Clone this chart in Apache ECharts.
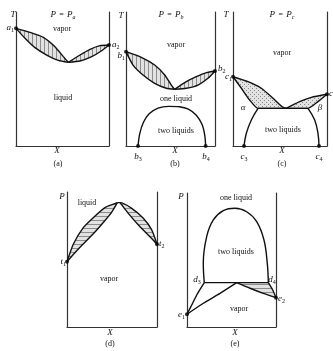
<!DOCTYPE html>
<html>
<head>
<meta charset="utf-8">
<script src="https://cdn.jsdelivr.net/npm/echarts@6/dist/echarts.min.js"></script>
<style>
html,body{margin:0;padding:0;background:#fff;}
#chart{width:333px;height:351px;}
</style>
</head>
<body>
<div id="chart"></div>
<script>
// all curves in panel units: x 0..100 (composition), y 0..100 (T or P)

// (a) P = Pa
var aLeftUpper = [[0,87.8],[15.1,84.8],[29.4,81.1],[41.9,74.1],[50.9,66.7],[56.3,62.4]];
var aLeftLower = [[0,87.8],[9.7,80.4],[20.4,73.4],[33.0,67.9],[45.5,63.9],[56.3,62.4]];
var aRightUpper = [[56.3,62.4],[68.8,67.9],[79.6,72.1],[90.3,74.9],[100,75.4]];
var aRightLower = [[56.3,62.4],[68.8,63.4],[81.4,66.7],[92.1,71.1],[100,75.4]];
var aDots = [[0,87.8],[100,75.4]];

// (b) P = Pb
var bLeftUpper = [[0,70.4],[17.2,66.2],[32.2,60.4],[43.5,53.0],[50.9,45.5],[54.7,42.3]];
var bLeftLower = [[0,70.4],[7.9,60.4],[19.1,53.0],[32.2,46.8],[45.3,43.1],[54.7,42.3]];
var bRightUpper = [[54.7,42.3],[67.8,48.0],[79.0,51.7],[90.3,54.7],[100,56.0]];
var bRightLower = [[54.7,42.3],[67.8,43.1],[80.9,45.5],[92.1,50.5],[100,56.0]];
var bDome = [[13.5,0],[15.4,9],[19.5,17.5],[26,24],[36,28.3],[48,29.6],[60,29.3],[70,27.5],[79,23],[85.5,16],[88.5,8],[89.5,0]];
var bDots = [[0,70.4],[100,56.0],[13.5,0],[89.5,0]];

// (c) P = Pc
var cLeftUpper = [[0,51.7],[16.0,48.0],[30.1,43.1],[42.6,35.6],[52.0,29.5],[56.5,28.1]];
var cLeftLower = [[0,51.7],[8.9,43.1],[17.7,34.3],[26.6,28.1],[56.5,28.1]];
var cRightUpper = [[56.5,28.1],[70.9,33.1],[83.3,36.3],[100,38.6]];
var cRightLower = [[56.5,28.1],[79.8,28.1],[90.4,33.1],[100,38.6]];
var cTie = [[26.6,28.1],[79.8,28.1]];
var cAlpha = [[26.6,28.1],[19.5,19.4],[14.2,9.5],[11.7,0]];
var cBeta = [[79.8,28.1],[86.9,19.4],[90.4,9.5],[91.5,0]];
var cDots = [[0,51.7],[100,38.6],[11.7,0],[91.5,0]];

// (d) T fixed, P vs X
var dLeftOuter = [[0,48.4],[7.0,61.3],[18.1,73.6],[29.2,81.0],[42.2,88.4],[55.9,92.1]];
var dLeftInner = [[0,48.4],[14.4,59.0],[29.2,69.0],[42.2,78.9],[49.7,85.1],[55.9,92.1]];
var dRightOuter = [[55.9,92.1],[58.9,92.1],[71.9,87.9],[84.8,80.5],[94.1,71.9],[100,61.3]];
var dRightInner = [[58.9,92.1],[68.1,84.2],[81.1,74.3],[92.2,66.9],[100,61.3]];
var dDots = [[0,48.4],[100,61.3]];

// (e) T fixed, P vs X with two liquids
var eLeftSide = [[19.4,33.1],[10.9,23.9],[5.3,16.4],[0,9.5]];
var eLeftLower = [[0,9.5],[18.3,17.7],[37.1,25.1],[55.8,33.1]];
var eRightLower = [[55.8,33.1],[70.8,28.9],[85.7,25.1],[100,21.9]];
var eRightUpper = [[91.4,33.1],[96.3,27.6],[100,21.9]];
var eTie = [[19.4,33.1],[91.4,33.1]];
var eDome = [[19.4,33.1],[18.3,47.5],[22.1,67.4],[29.6,79.9],[40.8,86.8],[53.9,88.6],[67.0,86.0],[78.3,78.6],[86.5,64.9],[90.2,47.5],[91.4,33.1]];
var eDots = [[0,9.5],[100,21.9]];

var serif = '"Liberation Serif","DejaVu Serif",serif';

var chart = echarts.init(document.getElementById('chart'));

function hatch(kind) {
	var c = document.createElement('canvas');
	c.width = 4; c.height = 4;
	var g = c.getContext('2d');
	g.fillStyle = '#e2e2e2';
	g.fillRect(0, 0, 4, 4);
	g.fillStyle = '#8c8c8c';
	if (kind == 'v') {
		g.fillRect(0, 0, 1, 4);
	} else if (kind == 'h') {
		g.fillRect(0, 0, 4, 1);
	} else {
		g.fillRect(0, 0, 1, 1);
		g.fillRect(2, 2, 1, 1);
	}
	return { image: c, repeat: 'repeat' };
}

var grids = [
	{ left: 16, top: 12, width: 93, height: 134 },
	{ left: 126, top: 12, width: 89, height: 134 },
	{ left: 233, top: 12, width: 94, height: 134 },
	{ left: 67, top: 192, width: 90, height: 135 },
	{ left: 187, top: 193, width: 89, height: 134 }
];

var xAxes = [], yAxes = [];
for (var i = 0; i < grids.length; i++) {
	xAxes.push({
		type: 'value', gridIndex: i, min: 0, max: 100,
		axisLine: { show: true, onZero: false, lineStyle: { color: '#333', width: 1.2 } },
		axisTick: { show: false }, axisLabel: { show: false }, splitLine: { show: false }
	});
	['left', 'right'].forEach(function (pos) {
		yAxes.push({
			type: 'value', gridIndex: i, min: 0, max: 100, position: pos,
			axisLine: { show: true, onZero: false, lineStyle: { color: '#333', width: 1.2 } },
			axisTick: { show: false }, axisLabel: { show: false }, splitLine: { show: false }
		});
	});
}

function curve(gi, pts, smooth) {
	return {
		type: 'line', xAxisIndex: gi, yAxisIndex: gi * 2, data: pts,
		symbol: 'none', smooth: smooth || 0.2, clip: false, silent: true, z: 3,
		lineStyle: { color: '#111', width: 1.4 }
	};
}

function lens(gi, sideA, sideB, fill) {
	// polygon = sideA forward + sideB backward
	return {
		type: 'custom', xAxisIndex: gi, yAxisIndex: gi * 2, data: [[0, 0]],
		silent: true, clip: false, z: 1,
		renderItem: function (params, api) {
			var pts = sideA.concat(sideB.slice().reverse()).map(function (p) { return api.coord(p); });
			return { type: 'polygon', shape: { points: pts }, style: { fill: fill, stroke: null } };
		}
	};
}

function dots(gi, pts) {
	return {
		type: 'scatter', xAxisIndex: gi, yAxisIndex: gi * 2, data: pts,
		symbolSize: 4, itemStyle: { color: '#000' }, clip: false, silent: true, z: 4
	};
}

var hv = hatch('v'), hh = hatch('h'), hd = hatch('d');

var series = [
	lens(0, aLeftUpper, aLeftLower, hv), lens(0, aRightUpper, aRightLower, hv),
	curve(0, aLeftUpper), curve(0, aLeftLower), curve(0, aRightUpper), curve(0, aRightLower), dots(0, aDots),

	lens(1, bLeftUpper, bLeftLower, hv), lens(1, bRightUpper, bRightLower, hv),
	curve(1, bLeftUpper), curve(1, bLeftLower), curve(1, bRightUpper), curve(1, bRightLower),
	curve(1, bDome, 0.3), dots(1, bDots),

	lens(2, cLeftUpper, cLeftLower, hd), lens(2, cRightUpper, cRightLower, hd),
	curve(2, cLeftUpper), curve(2, cLeftLower), curve(2, cRightUpper), curve(2, cRightLower),
	curve(2, cTie), curve(2, cAlpha, 0.4), curve(2, cBeta, 0.4), dots(2, cDots),

	lens(3, dLeftOuter, dLeftInner, hh), lens(3, dRightOuter, dRightInner, hh),
	curve(3, dLeftOuter), curve(3, dLeftInner), curve(3, dRightOuter), curve(3, dRightInner), dots(3, dDots),

	lens(4, eLeftSide, eLeftLower, hh), lens(4, eRightUpper.concat(eRightLower.slice().reverse()), [[55.8, 33.1]], hh),
	curve(4, eLeftSide), curve(4, eLeftLower), curve(4, eRightLower), curve(4, eRightUpper),
	curve(4, eTie), curve(4, eDome, 0.4), dots(4, eDots)
];

var rich = {
	i: { fontFamily: serif, fontStyle: 'italic', fontSize: 9, fill: '#111' },
	s: { fontFamily: serif, fontSize: 6, fill: '#111', padding: [5, 0, 0, 0] },
	si: { fontFamily: serif, fontStyle: 'italic', fontSize: 6, fill: '#111', padding: [5, 0, 0, 0] },
	w: { fontFamily: serif, fontSize: 8, fill: '#111' }
};

// [x, y, text, align]
var labels = [
	[13, 15, '{i|T}', 'center'], [63, 15, '{i|P} {w|=} {i|P}{si|a}', 'center'],
	[62, 29, '{w|vapor}', 'center'], [63, 98, '{w|liquid}', 'center'],
	[14, 28, '{i|a}{s|1}', 'right'], [112, 45, '{i|a}{s|2}', 'left'],
	[57, 151, '{i|X}', 'center'], [58, 164, '{w|(a)}', 'center'],

	[121, 16, '{i|T}', 'center'], [171, 15, '{i|P} {w|=} {i|P}{si|b}', 'center'],
	[176, 45, '{w|vapor}', 'center'], [176, 99, '{w|one liquid}', 'center'],
	[176, 131, '{w|two liquids}', 'center'],
	[125, 56, '{i|b}{s|1}', 'right'], [218, 69, '{i|b}{s|2}', 'left'],
	[138, 157, '{i|b}{s|3}', 'center'], [206, 157, '{i|b}{s|4}', 'center'],
	[175, 151, '{i|X}', 'center'], [175, 164, '{w|(b)}', 'center'],

	[226, 15, '{i|T}', 'center'], [282, 15, '{i|P} {w|=} {i|P}{si|c}', 'center'],
	[282, 53, '{w|vapor}', 'center'], [243, 108, '{i|α}', 'center'], [320, 108, '{i|β}', 'center'],
	[283, 130, '{w|two liquids}', 'center'],
	[232, 77, '{i|c}{s|1}', 'right'], [329, 94, '{i|c}{s|2}', 'left'],
	[244, 157, '{i|c}{s|3}', 'center'], [319, 157, '{i|c}{s|4}', 'center'],
	[282, 151, '{i|X}', 'center'], [282, 164, '{w|(c)}', 'center'],

	[62, 197, '{i|P}', 'center'], [87, 203, '{w|liquid}', 'center'],
	[66, 262, '{i|t}{s|1}', 'right'], [159, 244, '{i|t}{s|2}', 'left'],
	[109, 279, '{w|vapor}', 'center'], [110, 333, '{i|X}', 'center'], [110, 344, '{w|(d)}', 'center'],

	[181, 197, '{i|P}', 'center'], [236, 198, '{w|one liquid}', 'center'],
	[236, 252, '{w|two liquids}', 'center'],
	[197, 280, '{i|d}{s|3}', 'center'], [272, 280, '{i|d}{s|4}', 'center'],
	[185, 315, '{i|e}{s|1}', 'right'], [278, 299, '{i|e}{s|2}', 'left'],
	[239, 309, '{w|vapor}', 'center'], [235, 333, '{i|X}', 'center'], [235, 344, '{w|(e)}', 'center']
];

var graphic = labels.map(function (l) {
	return {
		type: 'text', x: l[0], y: l[1], silent: true, z: 10,
		style: { text: l[2], rich: rich, align: l[3], verticalAlign: 'middle' }
	};
});

var option = {
	animation: false,
	backgroundColor: '#fff',
	grid: grids,
	xAxis: xAxes,
	yAxis: yAxes,
	graphic: graphic,
	series: series
};

chart.setOption(option);
</script>
</body>
</html>
